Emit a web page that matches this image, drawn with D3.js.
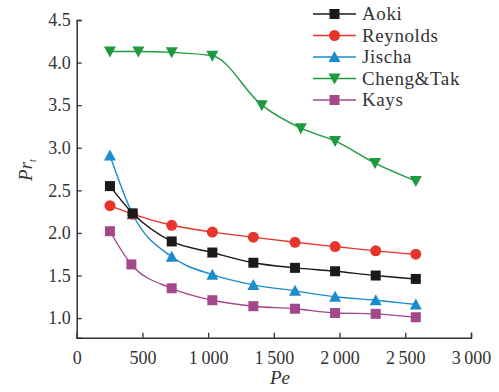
<!DOCTYPE html>
<html>
<head>
<meta charset="utf-8">
<script src="https://cdn.jsdelivr.net/npm/d3@7"></script>
<style>
	body { margin: 0; background: #fff; }
	svg text { font-family: "Liberation Serif", "Times New Roman", serif !important; fill: #333; }
</style>
</head>
<body>
<div id="chart"></div>
<script>
const xTicks = [0, 500, 1000, 1500, 2000, 2500, 3000];
const xTickLabels = ["0", "500", "1\u2009000", "1\u2009500", "2\u2009000", "2\u2009500", "3\u2009000"];
const yTicks = [1.0, 1.5, 2.0, 2.5, 3.0, 3.5, 4.0, 4.5];

const peA = [253, 426, 723, 1032, 1344, 1661, 1966, 2275, 2580];
const peC = [253, 469, 723, 1032, 1408, 1705, 1966, 2270, 2580];
const kaysPe = [253, 416, 723, 1032, 1344, 1661, 1966, 2275, 2580];

const aoki = [2.55, 2.23, 1.90, 1.77, 1.65, 1.59, 1.55, 1.50, 1.46];
const reynolds = [2.32, 2.22, 2.09, 2.01, 1.95, 1.89, 1.84, 1.79, 1.75];
const jischa = [2.91, 2.22, 1.72, 1.51, 1.39, 1.32, 1.25, 1.21, 1.16];
const chengTak = [4.13, 4.13, 4.12, 4.08, 3.50, 3.23, 3.08, 2.82, 2.61];
const kays = [2.02, 1.63, 1.35, 1.21, 1.14, 1.11, 1.06, 1.05, 1.01];

const series = [
	{name: "Aoki", x: peA, y: aoki, color: "#1a1a1a", shape: "square"},
	{name: "Reynolds", x: peA, y: reynolds, color: "#e8352c", shape: "circle"},
	{name: "Jischa", x: peA, y: jischa, color: "#1b8ccc", shape: "triangle"},
	{name: "Cheng&Tak", x: peC, y: chengTak, color: "#1d9a3f", shape: "down"},
	{name: "Kays", x: kaysPe, y: kays, color: "#a3488a", shape: "square"}
];

const width = 499, height = 392;
const svg = d3.select("#chart").append("svg").attr("width", width).attr("height", height);

const x = d3.scaleLinear().domain([0, 3000]).range([76.7, 471]);
const y = d3.scaleLinear().domain([0.77, 4.5]).range([337.7, 20]);

const axisColor = "#333";

// x axis, ticks inward
const gx = svg.append("g").attr("transform", `translate(0,${y(0.77)})`)
	.call(d3.axisBottom(x).tickValues(xTicks).tickSize(-5).tickPadding(14)
		.tickFormat((d, i) => xTickLabels[i]));
gx.attr("font-family", null);
gx.select(".domain").attr("stroke", axisColor).attr("stroke-width", 1.5);
gx.selectAll(".tick line").attr("stroke", axisColor).attr("stroke-width", 1.3);
gx.selectAll(".tick text").attr("font-size", 18).attr("fill", "#333");

// y axis, ticks inward
const gy = svg.append("g").attr("transform", `translate(${x(0)},0)`)
	.call(d3.axisLeft(y).tickValues(yTicks).tickSize(-5).tickPadding(6)
		.tickFormat(d3.format(".1f")));
gy.attr("font-family", null);
gy.select(".domain").attr("stroke", axisColor).attr("stroke-width", 1.5);
gy.selectAll(".tick line").attr("stroke", axisColor).attr("stroke-width", 1.3);
gy.selectAll(".tick text").attr("font-size", 18).attr("fill", "#333");

// axis titles
svg.append("text").attr("x", 280).attr("y", 384).attr("text-anchor", "middle")
	.attr("font-size", 19).attr("font-style", "italic").text("Pe");

const yl = svg.append("text").attr("transform", "translate(32,170) rotate(-90)")
	.attr("text-anchor", "middle").attr("font-size", 19).attr("font-style", "italic");
yl.append("tspan").text("Pr");
yl.append("tspan").attr("font-size", 10).attr("dy", 4).text("t");

const line = d3.line().curve(d3.curveMonotoneX);

function marker(g, shape, cx, cy, color) {
	if (shape === "square") {
		g.append("rect").attr("x", cx - 5).attr("y", cy - 5).attr("width", 10).attr("height", 10)
			.attr("fill", color);
	} else if (shape === "circle") {
		g.append("circle").attr("cx", cx).attr("cy", cy).attr("r", 5.5).attr("fill", color);
	} else if (shape === "triangle") {
		g.append("path").attr("d", `M${cx},${cy - 6}L${cx + 6},${cy + 5}L${cx - 6},${cy + 5}Z`)
			.attr("fill", color);
	} else {
		g.append("path").attr("d", `M${cx},${cy + 6}L${cx + 6},${cy - 5}L${cx - 6},${cy - 5}Z`)
			.attr("fill", color);
	}
}

// draw in reverse so Aoki sits on top
[4, 3, 2, 1, 0].forEach(i => {
	const s = series[i];
	const pts = s.x.map((v, j) => [x(v), y(s.y[j])]);
	const g = svg.append("g");
	g.append("path").attr("d", line(pts)).attr("fill", "none")
		.attr("stroke", s.color).attr("stroke-width", 1.4);
	pts.forEach(p => marker(g, s.shape, p[0], p[1], s.color));
});

// legend
const leg = svg.append("g");
series.forEach((s, i) => {
	const ly = 14 + i * 21.5;
	leg.append("line").attr("x1", 313).attr("x2", 356).attr("y1", ly).attr("y2", ly)
		.attr("stroke", s.color).attr("stroke-width", 1.4);
	marker(leg, s.shape, 334.5, ly, s.color);
	leg.append("text").attr("x", 362).attr("y", ly + 6).attr("font-size", 19)
		.attr("letter-spacing", 0.6).text(s.name);
});
</script>
</body>
</html>
